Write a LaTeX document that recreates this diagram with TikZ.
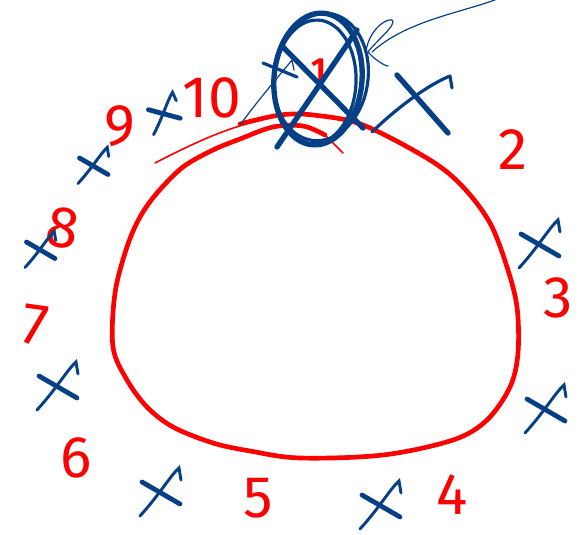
\documentclass[tikz,border=0pt]{standalone}
\usepackage{fontspec}
\setmainfont{Fira Sans}
\definecolor{pen}{RGB}{255,0,0}
\definecolor{ink}{RGB}{5,64,135}
\tikzset{
  redline/.style={draw=pen, line width=3.5pt, line cap=round, line join=round},
  redthin/.style={draw=pen, line width=1.2pt, line cap=round},
  bluethick/.style={draw=ink, line width=4pt, line cap=round, line join=round},
  bluemid/.style={draw=ink, line width=2.4pt, line cap=round, line join=round},
  bluethin/.style={draw=ink, line width=0.9pt, line cap=round, line join=round},
  num/.style={text=pen, font=\fontsize{44}{44}\selectfont, inner sep=0pt},
  xmark/.pic={
    \draw[ink, line width=3.6pt, line cap=round] (-18,-8) -- (20,14);
    \draw[ink, line width=2.2pt, line cap=round] (-20,26) .. controls (0,4) and (10,-14) .. (19,-22) -- (21,-10);
  }
}
\begin{document}
\begin{tikzpicture}[x=0.75pt, y=-0.75pt]
\useasboundingbox (0,0) rectangle (583,535);
% red closed curve
\draw[redthin] (155,163) .. controls (190,145) and (225,128) .. (262,120);
\draw[redline] plot[smooth, tension=0.55] coordinates {
 (240,124) (280,115) (313,115) (363,125) (430,160) (463,187) (490,223) (507,267)
 (517,307) (518,353) (510,387) (487,420) (453,440) (383,455) (300,458) (250,451)
 (213,443) (173,427) (147,407) (127,380) (113,347) (115,293) (127,247) (140,217)
 (157,193) (183,167) (213,150) (240,139) (273,127) (303,126) (325,135)};
\draw[redthin] (325,135) -- (343,153);
% numbers
\node[text=pen, font=\fontsize{24}{24}\selectfont\bfseries, inner sep=0pt] (n1) at (319,70) {1};
\node[num] (n2) at (513,150) {2};
\node[num] (n3) at (558,298) {3};
\node[num] (n4) at (452,495) {4};
\node[num] (n5) at (258,498) {5};
\node[num] (n6) at (76,458) {6};
\node[num, rotate=-8] (n7) at (35,325) {7};
\node[num, rotate=-10] (n8) at (63,228) {8};
\node[num] (n9) at (120,126) {9};
\node[num] (n10) at (212,98) {10};
% scribbled ellipse
\draw[bluethick] (318,79) ellipse[x radius=44, y radius=66, rotate=-5];
\draw[bluemid] (315,82) ellipse[x radius=41, y radius=62, rotate=-3];
\draw[bluemid] (321,77) ellipse[x radius=47, y radius=64, rotate=-8];
\draw[bluethick] (283,47) -- (363,128);
\draw[bluethick] (357,30) -- (277,147);
\draw[bluemid] (263,63) -- (297,77);
\draw[bluethin] (240,125) .. controls (262,95) and (280,75) .. (292,60) -- (294,70);
% pointer stroke
\draw[bluethin] (495,0) .. controls (455,14) and (405,22) .. (372,52);
\draw[bluethin] (366,52) .. controls (368,32) and (385,18) .. (392,20) .. controls (398,24) and (375,42) .. (368,52) .. controls (375,60) and (385,66) .. (388,66);
% X next to ellipse
\draw[bluethick] (397,75) -- (448,133);
\draw[bluemid] (372,132) .. controls (400,105) and (430,84) .. (450,76) -- (452,88);
% crosses around
\pic at (539,242) {xmark};
\pic at (545,407) {xmark};
\pic at (380,503) {xmark};
\pic at (160,490) {xmark};
\pic at (57,384) {xmark};
\pic[scale=0.75] at (40,248) {xmark};
\pic[scale=0.75] at (93,164) {xmark};
\pic[scale=0.75, rotate=15] at (163,112) {xmark};
\end{tikzpicture}
\end{document}
